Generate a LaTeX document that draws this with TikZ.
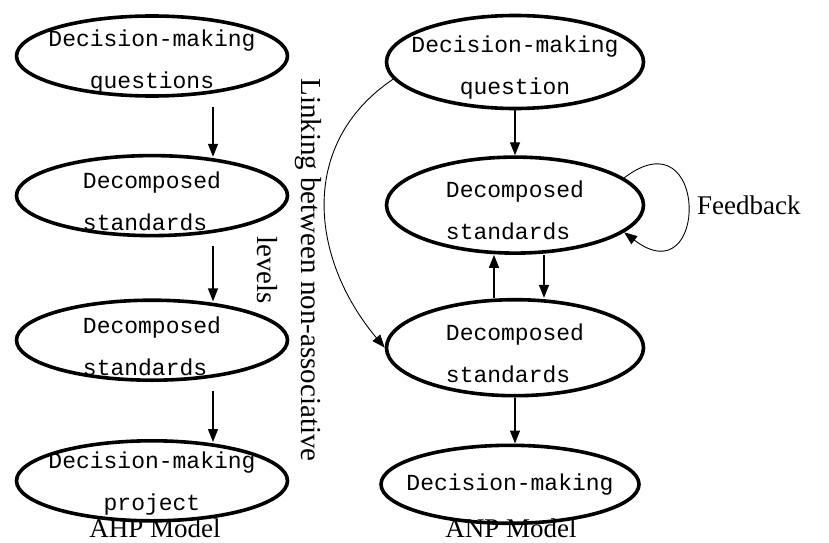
\documentclass[tikz,border=0pt]{standalone}
\usepackage{fontspec}
\setmainfont{Liberation Serif}
\setmonofont{Liberation Mono}
\usetikzlibrary{arrows.meta, positioning, shapes.geometric, calc}
\tikzset{
  bub/.style={ellipse, draw=black, line width=3.6pt, inner sep=-40pt,
              minimum width=271pt, minimum height=80pt, text height=70pt,
              font=\ttfamily\fontsize{23}{42}\selectfont, align=center},
  arr/.style={-{Triangle[length=13pt, width=10pt]}, line width=1.3pt},
  larr/.style={-{Triangle[length=13pt, width=10pt]}, line width=0.9pt},
  lbl/.style={font=\fontsize{27}{44}\selectfont, align=center, inner sep=0pt},
}
\begin{document}
\begin{tikzpicture}[x=1pt, y=1pt]
  \useasboundingbox (0,0) rectangle (829,542);

  % AHP column
  \node[bub] (q1) at (152,486) {Decision-making\\questions};
  \node[bub, align=left, below=56pt of q1] (q2) {Decomposed\\standards};
  \node[bub, align=left, below=61pt of q2] (q3) {Decomposed\\standards};
  \node[bub, text height=64pt, below=57pt of q3] (q4) {Decision-making\\project};
  \node[lbl, anchor=base] (ahp) at (155,5) {AHP Model};

  \draw[arr] ([xshift=61pt, yshift=-9pt]q1.south) -- ([xshift=61pt, yshift=-3pt]q2.north);
  \draw[arr] ([xshift=61pt, yshift=-9pt]q2.south) -- ([xshift=61pt, yshift=-3pt]q3.north);
  \draw[arr] ([xshift=61pt, yshift=-9pt]q3.south) -- ([xshift=61pt, yshift=-3pt]q4.north);

  \node[lbl, rotate=-90, font=\fontsize{29}{44}\selectfont] (lnk) at (289,272)
       {Linking between non-associative\\levels};

  % ANP column
  \node[bub, minimum width=257pt, minimum height=93pt] (r1) at (515,480) {Decision-making\\question};
  \node[bub, align=left, minimum width=257pt, minimum height=96pt, below=45pt of r1] (r2) {Decomposed\\standards};
  \node[bub, align=left, minimum width=257pt, minimum height=96pt, below=43pt of r2] (r3) {Decomposed\\standards};
  \node[bub, text height=17pt, minimum width=258pt, minimum height=78pt, below=46pt of r3, xshift=-5pt] (r4) {Decision-making};
  \node[lbl, anchor=base] (anp) at (511,5) {ANP Model};
  \node[lbl, anchor=west] (fb) at (697,337) {Feedback};

  \draw[arr] (r1.south) -- (r2.north);
  \draw[arr] ([xshift=29pt]r2.south) -- ([xshift=29pt]r3.north);
  \draw[arr] ([xshift=-21pt]r3.north) -- ([xshift=-21pt]r2.south);
  \draw[arr] (r3.south) -- (r3.south |- r4.north);
  \draw[larr] (r2.14) .. controls +(85,65) and +(85,-65) .. (r2.-14);
  \draw[larr] (r1.188) to[out=214, in=130, looseness=1.1] (r3.west);
\end{tikzpicture}
\end{document}
